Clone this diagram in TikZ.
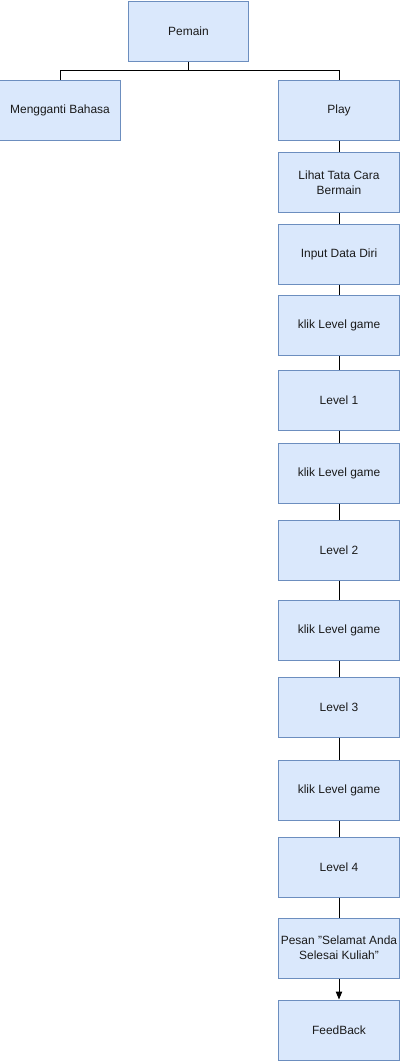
\documentclass[tikz,border=0pt]{standalone}
\usepackage{fontspec}
\setmainfont{Liberation Sans}
\usetikzlibrary{arrows.meta,positioning}
\definecolor{boxfill}{HTML}{DAE8FC}
\definecolor{boxline}{HTML}{6C8EBF}
\definecolor{textgrey}{HTML}{1A1A1A}

\begin{document}
\begin{tikzpicture}[x=0.025cm, y=-0.025cm,
    menubox/.style={rectangle, draw=boxline, line width=0.7pt, fill=boxfill,
        minimum width=3cm, minimum height=1.5cm, inner sep=2pt,
        font=\fontsize{8.5}{10.5}\selectfont, text=textgrey, align=center},
    link/.style={line width=0.7pt, black},
    arr/.style={-{Triangle[length=2mm, width=1.6mm]}, line width=0.7pt, black}
]
    \useasboundingbox (0,0) rectangle (400,1061);

    \node[menubox] (pemain) at (188.5, 31) {Pemain};
    \node[menubox] (bahasa) at (60, 110.5) {Mengganti Bahasa};
    \node[menubox] (play) at (339, 110.5) {Play};
    \node[menubox] (tatacara) at (339, 182.5) {Lihat Tata Cara\\Bermain};
    \node[menubox] (datadiri) at (339, 254) {Input Data Diri};
    \node[menubox] (klikA) at (339, 325.5) {klik Level game};
    \node[menubox] (levelA) at (339, 400) {Level 1};
    \node[menubox] (klikB) at (339, 473) {klik Level game};
    \node[menubox] (levelB) at (339, 550) {Level 2};
    \node[menubox] (klikC) at (339, 630) {klik Level game};
    \node[menubox] (levelC) at (339, 707) {Level 3};
    \node[menubox] (klikD) at (339, 790) {klik Level game};
    \node[menubox] (levelD) at (339, 867) {Level 4};
    \node[menubox] (pesan) at (339, 948) {Pesan "Selamat Anda\\Selesai Kuliah"};
    \node[menubox] (feedback) at (339, 1030) {FeedBack};

    \coordinate (split) at (188.5, 70);
    \draw[link] (pemain.south) -- (split) -| (bahasa.north);
    \draw[link] (split) -| (play.north);

    \draw[link] (play) -- (tatacara);
    \draw[link] (tatacara) -- (datadiri);
    \draw[link] (datadiri) -- (klikA);
    \draw[link] (klikA) -- (levelA);
    \draw[link] (levelA) -- (klikB);
    \draw[link] (klikB) -- (levelB);
    \draw[link] (levelB) -- (klikC);
    \draw[link] (klikC) -- (levelC);
    \draw[link] (levelC) -- (klikD);
    \draw[link] (klikD) -- (levelD);
    \draw[link] (levelD) -- (pesan);
    \draw[arr] (pesan) -- (feedback);
\end{tikzpicture}
\end{document}
